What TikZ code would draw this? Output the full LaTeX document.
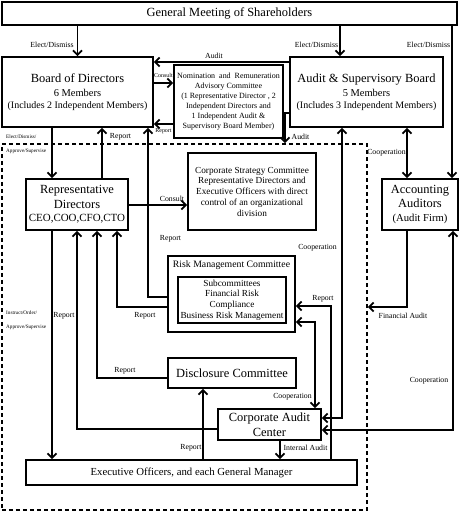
\documentclass[tikz,border=0pt]{standalone}
\usepackage{fontspec}
\setmainfont{Liberation Serif}
\usetikzlibrary{arrows.meta}
\newcommand{\fsz}[2]{\fontsize{#1}{#2}\selectfont}
\begin{document}
\begin{tikzpicture}[x=1bp,y=-1bp,
  box/.style={draw,line width=1.8bp,inner sep=0pt,align=center,anchor=center},
  conn/.style={line width=1.8bp},
  arr/.style={conn,-{Straight Barb[length=4.5bp,width=9bp]}},
  darr/.style={conn,{Straight Barb[length=4.5bp,width=9bp]}-{Straight Barb[length=4.5bp,width=9bp]}},
  lab/.style={inner sep=0pt,font=\fsz{7.8}{9}},
  tinylab/.style={inner sep=0pt,font=\fsz{5.2}{6}},
  sidelab/.style={inner sep=0pt,font=\fsz{6}{7}},
]
\useasboundingbox (0,0) rectangle (463,512);
% helper coordinates
\foreach \c in {52,77,97,102,117,148,203,280,285,315,331,342,340,407,452,453}{\coordinate (c\c) at (\c,0);}
\foreach \r in {62,83,113,124,205,297,306,307,322,378,418,429,430}{\coordinate (r\r) at (0,\r);}

% boxes
\node[box,minimum width=455bp,minimum height=23bp,font=\fsz{12.5}{15}] (gm) at (229.5,13.5) {General Meeting of Shareholders};
\node[box,minimum width=151bp,minimum height=70bp,font=\fsz{10}{13}] (board) at (77.5,92)
  {{\fsz{12.5}{15}Board of Directors}\\[1bp]{\fsz{10.5}{13}6 Members}\\[-1bp](Includes 2 Independent Members)};
\node[box,minimum width=153bp,minimum height=70bp,font=\fsz{10}{13}] (asb) at (366.5,92)
  {{\fsz{12.5}{15}Audit \& Supervisory Board}\\[1bp]{\fsz{10.5}{13}5 Members}\\[-1bp](Includes 3 Independent Members)};
\node[box,minimum width=109bp,minimum height=73bp,font=\fsz{8}{10}] (nom) at (228.5,101.5)
  {Nomination\enspace and\enspace Remuneration\\Advisory Committee\\(1 Representative Director , 2\\Independent Directors and\\1 Independent Audit \&\\Supervisory Board Member)};
\node[draw,dash pattern=on 4bp off 3bp,line width=1.8bp,minimum width=365bp,minimum height=366bp,inner sep=0pt] (inner) at (184.5,327) {};
\node[box,minimum width=76bp,minimum height=51bp,font=\fsz{10.7}{15}] (acc) at (420,204.5)
  {{\fsz{12.5}{15}Accounting}\\{\fsz{12.5}{15}Auditors}\\[-1bp](Audit Firm)};
\node[box,minimum width=102bp,minimum height=51bp,font=\fsz{11}{15}] (rep) at (77,204.5)
  {{\fsz{12.5}{15}Representative}\\{\fsz{12.5}{15}Directors}\\[-2bp]CEO,COO,CFO,CTO};
\node[box,minimum width=128bp,minimum height=77bp,font=\fsz{9.3}{10.8}] (strat) at (252,191.5)
  {Corporate Strategy Committee\\Representative Directors and\\Executive Officers with direct\\control of an organizational\\division};
\node[box,minimum width=127bp,minimum height=76bp] (risk) at (231.5,294) {};
\node[inner sep=0pt,font=\fsz{9.8}{12}] (risktitle) at (231.5,265.5) {Risk Management Committee};
\node[box,minimum width=108bp,minimum height=46bp,font=\fsz{9.3}{10.8}] (sub) at (232,300)
  {Subcommittees\\Financial Risk\\Compliance\\Business Risk Management};
\node[box,minimum width=128bp,minimum height=30bp,font=\fsz{12.5}{15}] (disc) at (232,373) {Disclosure Committee};
\node[box,minimum width=103bp,minimum height=31bp,font=\fsz{12.5}{15}] (cac) at (269.5,424.5) {Corporate Audit\\Center};
\node[box,minimum width=331bp,minimum height=25bp,font=\fsz{10.8}{13}] (exec) at (191.5,472.5) {Executive Officers, and each General Manager};

% connectors
\draw[arr] (gm.south -| board.north) -- (board.north);
\draw[arr] (gm.south -| c340) -- (asb.north -| c340);
\draw[arr] (gm.south -| c452) -- (acc.north -| c452);
\draw[arr] (asb.west |- r62) -- (board.east |- r62);
\draw[arr] (board.east |- r83) -- (nom.west |- r83);
\draw[arr] (nom.west |- r124) -- (board.east |- r124);
\draw[arr] (asb.west |- r113) -| (inner.north -| c285);
\draw[darr] (asb.south -| c407) -- (acc.north -| c407);
\draw[arr] (board.south -| c52) -- (rep.north -| c52);
\draw[arr] (rep.north -| c102) -- (board.south -| c102);
\draw[arr] (risk.west |- r297) -| (board.south -| c148);
\draw[arr] (rep.east |- r205) -- (strat.west |- r205);
\draw[arr] (risk.west |- r307) -| (rep.south -| c117);
\draw[arr] (disc.west |- r378) -| (rep.south -| c97);
\draw[arr] (cac.west |- r429) -| (rep.south -| c77);
\draw[arr] (rep.south -| c52) -- (exec.north -| c52);
\draw[arr] (exec.north -| c203) -- (disc.south -| c203);
\draw[arr] (cac.south -| c280) -- (exec.north -| c280);
\draw[arr] (exec.north -| c331) |- (risk.east |- r306);
\draw[darr] (risk.east |- r322) -| (cac.north -| c315);
\draw[darr] (asb.south -| c342) |- (cac.east |- r418);
\draw[darr] (acc.south -| c453) |- (cac.east |- r430);
\draw[arr] (acc.south -| c407) |- (inner.east |- r307);

% labels
\node[lab] at (52,45) {Elect/Dismiss};
\node[lab] at (316.5,45) {Elect/Dismiss};
\node[lab] at (428.5,45) {Elect/Dismiss};
\node[lab] at (214,56) {Audit};
\node[sidelab] at (163.5,75) {Consult};
\node[sidelab] at (163.5,131) {Report};
\node[lab] at (300.5,137) {Audit};
\node[lab] at (386.5,153) {Cooperation};
\node[tinylab,anchor=west] at (6,137) {Elect/Dismiss/};
\node[tinylab,anchor=west] at (6,151) {Approve/Supervise};
\node[lab] at (120.5,137) {Report};
\node[lab] at (172,198.5) {Consult};
\node[lab] at (170.5,239) {Report};
\node[lab] at (317.5,248) {Cooperation};
\node[tinylab,anchor=west] at (6,313) {Instruct/Order/};
\node[tinylab,anchor=west] at (6,327) {Approve/Supervise};
\node[lab] at (64,316) {Report};
\node[lab] at (145,316) {Report};
\node[lab] at (125,371) {Report};
\node[lab] at (323,299) {Report};
\node[lab] at (403,316) {Financial Audit};
\node[lab] at (429,381) {Cooperation};
\node[lab] at (292.5,397) {Cooperation};
\node[lab] at (191,448) {Report};
\node[lab] at (305.5,448) {Internal Audit};
\end{tikzpicture}
\end{document}
